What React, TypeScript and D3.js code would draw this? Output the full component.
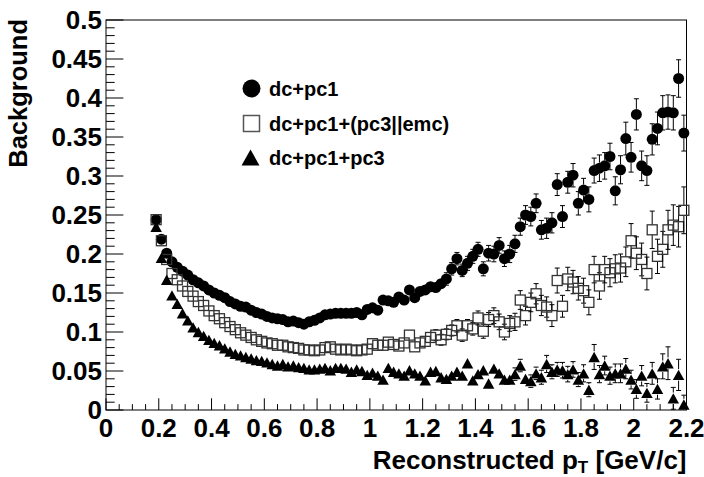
import React from "react";
import * as d3 from "d3";

// pT bin centres (0.02 GeV/c bins from 0.18 to 2.20)
const ptBins: number[] = d3.range(101).map((i) => +(0.19 + 0.02 * i).toFixed(2));

// Background fraction, tracking with dc+pc1
const bgDcPc1: number[] = [
  0.244, 0.219, 0.201, 0.19, 0.183, 0.178, 0.173, 0.167, 0.163, 0.159,
  0.154, 0.15, 0.147, 0.144, 0.139, 0.136, 0.133, 0.132, 0.128, 0.125,
  0.123, 0.12, 0.118, 0.117, 0.116, 0.113, 0.114, 0.112, 0.11, 0.113,
  0.115, 0.118, 0.122, 0.123, 0.124, 0.124, 0.124, 0.124, 0.125, 0.122,
  0.129, 0.131, 0.128, 0.141, 0.14, 0.138, 0.145, 0.141, 0.154, 0.144,
  0.152, 0.154, 0.158, 0.157, 0.162, 0.168, 0.181, 0.194, 0.179, 0.188,
  0.197, 0.206, 0.181, 0.201, 0.2, 0.211, 0.194, 0.2, 0.213, 0.235,
  0.25, 0.248, 0.265, 0.231, 0.233, 0.24, 0.289, 0.248, 0.292, 0.301,
  0.265, 0.282, 0.27, 0.307, 0.31, 0.313, 0.325, 0.281, 0.308, 0.348,
  0.324, 0.379, 0.313, 0.307, 0.347, 0.361, 0.381, 0.382, 0.381, 0.425,
  0.355,
];
const bgDcPc1Err: number[] = [
  0.002, 0.002, 0.002, 0.002, 0.002, 0.002, 0.002, 0.002, 0.002, 0.002,
  0.002, 0.002, 0.002, 0.002, 0.002, 0.002, 0.002, 0.002, 0.002, 0.002,
  0.002, 0.003, 0.003, 0.003, 0.003, 0.003, 0.003, 0.003, 0.003, 0.003,
  0.003, 0.003, 0.003, 0.003, 0.003, 0.003, 0.003, 0.003, 0.003, 0.003,
  0.003, 0.004, 0.004, 0.005, 0.005, 0.005, 0.005, 0.006, 0.006, 0.006,
  0.006, 0.006, 0.007, 0.007, 0.007, 0.008, 0.008, 0.008, 0.008, 0.009,
  0.009, 0.009, 0.009, 0.01, 0.01, 0.01, 0.01, 0.011, 0.011, 0.011,
  0.012, 0.012, 0.012, 0.012, 0.013, 0.013, 0.014, 0.014, 0.014, 0.015,
  0.015, 0.015, 0.016, 0.016, 0.017, 0.017, 0.017, 0.018, 0.018, 0.021,
  0.019, 0.02, 0.019, 0.019, 0.02, 0.021, 0.022, 0.022, 0.022, 0.024,
  0.023,
];

// dc+pc1+(pc3||emc)
const bgPc3OrEmc: number[] = [
  0.244, 0.217, 0.193, 0.175, 0.167, 0.159, 0.152, 0.146, 0.139, 0.134,
  0.127, 0.121, 0.117, 0.112, 0.107, 0.103, 0.099, 0.096, 0.093, 0.09,
  0.088, 0.086, 0.085, 0.083, 0.083, 0.081, 0.08, 0.079, 0.077, 0.077,
  0.076, 0.077, 0.08, 0.081, 0.078, 0.077, 0.078, 0.077, 0.076, 0.077,
  0.078, 0.085, 0.083, 0.083, 0.087, 0.084, 0.082, 0.086, 0.096, 0.081,
  0.086, 0.088, 0.093, 0.096, 0.09, 0.097, 0.102, 0.108, 0.096, 0.108,
  0.104, 0.118, 0.101, 0.116, 0.121, 0.113, 0.1, 0.111, 0.113, 0.141,
  0.121, 0.138, 0.149, 0.134, 0.132, 0.121, 0.166, 0.133, 0.168, 0.164,
  0.156, 0.153, 0.138, 0.18, 0.159, 0.18, 0.176, 0.181, 0.182, 0.19,
  0.217, 0.201, 0.193, 0.175, 0.231, 0.197, 0.206, 0.231, 0.237, 0.235,
  0.256,
];
const bgPc3OrEmcErr: number[] = [
  0.002, 0.002, 0.002, 0.002, 0.002, 0.002, 0.002, 0.002, 0.002, 0.002,
  0.002, 0.002, 0.002, 0.002, 0.002, 0.002, 0.002, 0.002, 0.002, 0.002,
  0.002, 0.003, 0.003, 0.003, 0.003, 0.003, 0.003, 0.003, 0.003, 0.003,
  0.003, 0.003, 0.003, 0.003, 0.003, 0.003, 0.003, 0.003, 0.003, 0.003,
  0.003, 0.004, 0.004, 0.004, 0.005, 0.005, 0.005, 0.005, 0.006, 0.006,
  0.006, 0.006, 0.006, 0.007, 0.007, 0.007, 0.007, 0.008, 0.008, 0.008,
  0.008, 0.009, 0.009, 0.009, 0.01, 0.01, 0.01, 0.01, 0.011, 0.012,
  0.012, 0.012, 0.013, 0.013, 0.013, 0.014, 0.016, 0.014, 0.015, 0.015,
  0.015, 0.016, 0.016, 0.017, 0.017, 0.017, 0.018, 0.018, 0.018, 0.019,
  0.022, 0.021, 0.021, 0.021, 0.024, 0.022, 0.023, 0.025, 0.026, 0.026,
  0.03,
];

// dc+pc1+pc3
const bgDcPc1Pc3: number[] = [
  0.235, 0.195, 0.167, 0.147, 0.136, 0.124, 0.115, 0.106, 0.1, 0.095,
  0.09, 0.086, 0.083, 0.079, 0.075, 0.072, 0.07, 0.068, 0.066, 0.064,
  0.063, 0.061, 0.059, 0.057, 0.059, 0.056, 0.057, 0.055, 0.054, 0.052,
  0.052, 0.053, 0.054, 0.051, 0.054, 0.054, 0.053, 0.049, 0.052, 0.05,
  0.045, 0.048, 0.044, 0.039, 0.054, 0.049, 0.047, 0.044, 0.051, 0.047,
  0.044, 0.038, 0.049, 0.05, 0.042, 0.04, 0.044, 0.049, 0.044, 0.06,
  0.038, 0.046, 0.051, 0.034, 0.053, 0.047, 0.039, 0.039, 0.046, 0.057,
  0.04, 0.037, 0.047, 0.042, 0.059, 0.049, 0.052, 0.051, 0.046, 0.052,
  0.039, 0.047, 0.026, 0.068, 0.046, 0.057, 0.044, 0.047, 0.047, 0.053,
  0.039, 0.027, 0.044, 0.022, 0.047, 0.027, 0.056, 0.06, 0.015, 0.045,
  0.007,
];
const bgDcPc1Pc3Err: number[] = [
  0.002, 0.002, 0.002, 0.002, 0.002, 0.002, 0.002, 0.002, 0.002, 0.002,
  0.002, 0.002, 0.002, 0.002, 0.002, 0.002, 0.002, 0.002, 0.002, 0.002,
  0.002, 0.002, 0.002, 0.002, 0.002, 0.002, 0.002, 0.002, 0.002, 0.002,
  0.002, 0.002, 0.002, 0.002, 0.002, 0.002, 0.002, 0.002, 0.002, 0.002,
  0.002, 0.003, 0.003, 0.003, 0.003, 0.003, 0.003, 0.003, 0.003, 0.003,
  0.003, 0.004, 0.004, 0.004, 0.005, 0.005, 0.005, 0.005, 0.005, 0.006,
  0.005, 0.006, 0.006, 0.006, 0.006, 0.007, 0.007, 0.007, 0.008, 0.008,
  0.007, 0.008, 0.008, 0.009, 0.011, 0.009, 0.009, 0.01, 0.01, 0.01,
  0.009, 0.011, 0.009, 0.016, 0.011, 0.012, 0.011, 0.012, 0.012, 0.013,
  0.012, 0.012, 0.013, 0.012, 0.014, 0.013, 0.016, 0.021, 0.014, 0.02,
  0.012,
];

const legendLabels: string[] = ["dc+pc1", "dc+pc1+(pc3||emc)", "dc+pc1+pc3"];
const xTickValues: number[] = [0, 0.2, 0.4, 0.6, 0.8, 1, 1.2, 1.4, 1.6, 1.8, 2, 2.2];
const xTickLabels: string[] = ["0", "0.2", "0.4", "0.6", "0.8", "1", "1.2", "1.4", "1.6", "1.8", "2", "2.2"];
const yTickValues: number[] = [0, 0.05, 0.1, 0.15, 0.2, 0.25, 0.3, 0.35, 0.4, 0.45, 0.5];
const yTickLabels: string[] = ["0", "0.05", "0.1", "0.15", "0.2", "0.25", "0.3", "0.35", "0.4", "0.45", "0.5"];

const W = 704;
const H = 477;
const L = 106;
const R = 686.5;
const T = 20;
const B = 410;
const FONT = "'Liberation Sans', Arial, Helvetica, sans-serif";

const x = d3.scaleLinear().domain([0, 2.2]).range([L, R]);
const y = d3.scaleLinear().domain([0, 0.5]).range([B, T]);

type Shape = "circle" | "square" | "triangle";

function Marker({ shape, cx, cy, size }: { shape: Shape; cx: number; cy: number; size: number }) {
  if (shape === "circle") return <circle cx={cx} cy={cy} r={size / 2} fill="#000" />;
  if (shape === "square")
    return (
      <rect
        x={cx - size / 2}
        y={cy - size / 2}
        width={size}
        height={size}
        fill="none"
        stroke="#333"
        strokeWidth={1.3}
      />
    );
  const h = size * 0.9;
  return (
    <path
      d={`M${cx},${cy - h / 2}L${cx + size / 2},${cy + h / 2}L${cx - size / 2},${cy + h / 2}Z`}
      fill="#000"
    />
  );
}

function Series({ vals, errs, shape, size }: { vals: number[]; errs: number[]; shape: Shape; size: number }) {
  const half = size / 2;
  const cap = 2.5;
  return (
    <g>
      {vals.map((v, i) => {
        const cx = x(ptBins[i]);
        const cy = y(v);
        const top = y(v + errs[i]);
        const bot = Math.min(y(Math.max(v - errs[i], 0)), B);
        const parts: JSX.Element[] = [];
        if (cy - top > half) {
          parts.push(<line key="u" x1={cx} x2={cx} y1={cy - half} y2={top} />);
          parts.push(<line key="uc" x1={cx - cap} x2={cx + cap} y1={top} y2={top} />);
        }
        if (bot - cy > half) {
          parts.push(<line key="d" x1={cx} x2={cx} y1={cy + half} y2={bot} />);
          parts.push(<line key="dc" x1={cx - cap} x2={cx + cap} y1={bot} y2={bot} />);
        }
        return (
          <g key={i}>
            <g stroke="#000" strokeWidth={1}>{parts}</g>
            <Marker shape={shape} cx={cx} cy={cy} size={size} />
          </g>
        );
      })}
    </g>
  );
}

export default function App() {
  const xMinor = d3.range(0, 2.2001, 0.05).filter((v) => Math.abs(v / 0.2 - Math.round(v / 0.2)) > 1e-6);
  const yMinor = d3.range(0, 0.5001, 0.01).filter((v) => Math.abs(v / 0.05 - Math.round(v / 0.05)) > 1e-6);
  const yMajorLen = 17.4;
  const xMajorLen = 11.7;

  return (
    <div style={{ position: "fixed", left: 0, top: 0, width: W, height: H, background: "#fff" }}>
      <svg width={W} height={H} viewBox={`0 0 ${W} ${H}`} style={{ display: "block" }}>
        <rect x={0} y={0} width={W} height={H} fill="#fff" />

        {/* frame */}
        <rect x={L} y={T} width={R - L} height={B - T} fill="none" stroke="#000" strokeWidth={1} />

        {/* axis ticks */}
        <g stroke="#000" strokeWidth={1}>
          {yTickValues.map((v) => (
            <line key={`ym${v}`} x1={L} x2={L + yMajorLen} y1={y(v)} y2={y(v)} />
          ))}
          {yMinor.map((v) => (
            <line key={`yn${v}`} x1={L} x2={L + yMajorLen / 2} y1={y(v)} y2={y(v)} />
          ))}
          {xTickValues.map((v) => (
            <line key={`xm${v}`} x1={x(v)} x2={x(v)} y1={B} y2={B - xMajorLen} />
          ))}
          {xMinor.map((v) => (
            <line key={`xn${v}`} x1={x(v)} x2={x(v)} y1={B} y2={B - xMajorLen / 2} />
          ))}
        </g>

        {/* tick labels */}
        <g fontFamily={FONT} fontWeight="bold" fontSize={26} fill="#000">
          {yTickValues.map((v, i) => (
            <text key={`yl${v}`} x={L - 4} y={y(v)} dy="0.36em" textAnchor="end">
              {yTickLabels[i]}
            </text>
          ))}
          {xTickValues.map((v, i) => (
            <text key={`xl${v}`} x={x(v)} y={437} textAnchor="middle">
              {xTickLabels[i]}
            </text>
          ))}
        </g>

        {/* axis titles */}
        <text x={R} y={469} textAnchor="end" fontFamily={FONT} fontWeight="bold" fontSize={26} fill="#000">
          Reconstructed p
          <tspan fontSize={17} dy={4}>T</tspan>
          <tspan dy={-4}> [GeV/c]</tspan>
        </text>
        <text
          transform={`translate(27,${T - 1}) rotate(-90)`}
          textAnchor="end"
          fontFamily={FONT}
          fontWeight="bold"
          fontSize={25.5}
          fill="#000"
        >
          Background
        </text>

        {/* data */}
        <Series vals={bgDcPc1} errs={bgDcPc1Err} shape="circle" size={11} />
        <Series vals={bgPc3OrEmc} errs={bgPc3OrEmcErr} shape="square" size={10} />
        <Series vals={bgDcPc1Pc3} errs={bgDcPc1Pc3Err} shape="triangle" size={11.5} />

        {/* legend */}
        <g fontFamily={FONT} fontWeight="bold" fontSize={20} fill="#000">
          <circle cx={251.5} cy={88.5} r={9} fill="#000" />
          <text x={269} y={88.5} dy="0.36em">{legendLabels[0]}</text>
          <rect x={243.5} y={115.5} width={16} height={16} fill="none" stroke="#555" strokeWidth={1.5} />
          <text x={269} y={123.5} dy="0.36em">{legendLabels[1]}</text>
          <path d="M250.5,149.5L259.5,165.5L241.5,165.5Z" fill="#000" />
          <text x={269} y={157.5} dy="0.36em">{legendLabels[2]}</text>
        </g>
      </svg>
    </div>
  );
}
